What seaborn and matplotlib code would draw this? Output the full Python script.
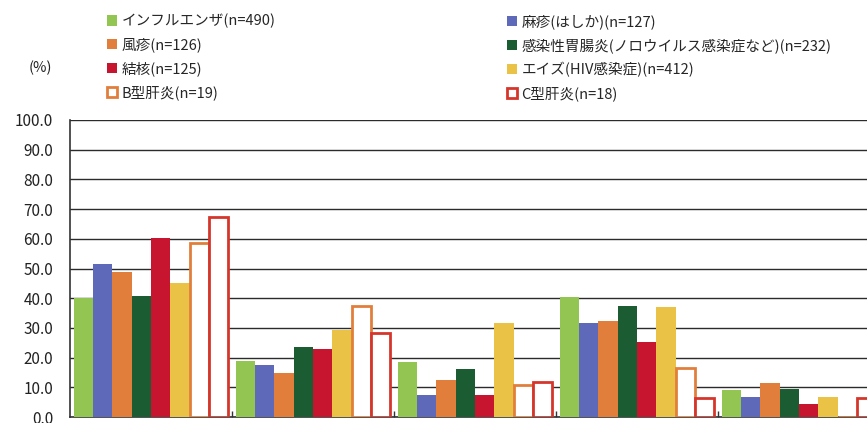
import pandas as pd
import seaborn as sns
import matplotlib.pyplot as plt
from matplotlib.patches import Patch

# groups (axis labels are cut off in the source image)
groups = ['G1', 'G2', 'G3', 'G4', 'G5']
diseases = ['インフルエンザ(n=490)', '麻疹(はしか)(n=127)', '風疹(n=126)',
            '感染性胃腸炎(ノロウイルス感染症など)(n=232)', '結核(n=125)',
            'エイズ(HIV感染症)(n=412)', 'B型肝炎(n=19)', 'C型肝炎(n=18)']

influenza = [40.0, 18.9, 18.5, 40.4, 9.0]
measles = [51.6, 17.6, 7.4, 31.8, 6.7]
rubella = [48.7, 14.7, 12.4, 32.4, 11.6]
gastro = [40.8, 23.5, 16.2, 37.3, 9.4]
tb = [60.2, 22.8, 7.4, 25.3, 4.5]
aids = [45.0, 29.4, 31.5, 36.9, 6.6]
hep_b = [58.5, 37.4, 10.8, 16.4, 0.0]
hep_c = [67.2, 28.3, 11.9, 6.5, 6.4]

colors = ['#93C552', '#5F69B9', '#E27E3C', '#1C5C33', '#C8152F',
          '#EAC246', '#E27E3C', '#D6352C']

series = [influenza, measles, rubella, gastro, tb, aids, hep_b, hep_c]
rows = []
for name, vals in zip(diseases, series):
    for g, v in zip(groups, vals):
        rows.append({'group': g, 'disease': name, 'value': v})
df = pd.DataFrame(rows)

sns.set_theme(style='white')
plt.rcParams['font.family'] = ['Noto Sans CJK JP', 'DejaVu Sans']

fig = plt.figure(figsize=(8.67, 4.23), dpi=100)
ax = fig.add_axes([70 / 867, 6 / 423, 810 / 867, 297 / 423])

sns.barplot(data=df, x='group', y='value', hue='disease', hue_order=diseases,
            palette=colors, width=0.955, saturation=1, legend=False, ax=ax,
            zorder=3, linewidth=0)

# hepatitis bars are hollow
for cont, c in zip(ax.containers[6:], colors[6:]):
    for p in cont.patches:
        p.set_facecolor('white')
        p.set_edgecolor(c)
        p.set_linewidth(2)

ax.set_ylim(0, 100)
ax.set_xlim(-0.5, 4.5)
ax.set_yticks(range(0, 101, 10))
ax.set_yticklabels([f'{v:.1f}' for v in range(0, 101, 10)], fontsize=11, color='#222222')
ax.set_xticks([])
ax.set_xticks([0.5, 1.5, 2.5, 3.5], minor=True)
ax.tick_params(axis='x', which='minor', direction='in', length=4, width=1, color='#333333', bottom=True)
ax.tick_params(axis='y', length=0, pad=12)
ax.set_xlabel('')
ax.set_ylabel('')
ax.yaxis.grid(True, color='#2b2b2b', linewidth=1)
ax.set_axisbelow(True)
for s in ['top', 'right']:
    ax.spines[s].set_visible(False)
for s in ['left', 'bottom']:
    ax.spines[s].set_color('#333333')
    ax.spines[s].set_linewidth(1.2)

fig.text(40 / 867, 1 - 68 / 423, '(%)', fontsize=10.5, ha='center', va='center', color='#222222')

handles = []
for name, c, i in zip(diseases, colors, range(8)):
    if i >= 6:
        handles.append(Patch(facecolor='white', edgecolor=c, linewidth=2, label=name))
    else:
        handles.append(Patch(facecolor=c, edgecolor='none', label=name))

for col, x0 in [(0, 107 / 867), (1, 507 / 867)]:
    hs = handles[col::2]
    fig.legend(handles=hs, loc='upper left', bbox_to_anchor=(x0, 1 - 14 / 423),
               frameon=False, fontsize=10.5, handlelength=0.7, handleheight=0.7,
               handletextpad=0.3, labelspacing=0.62, borderpad=0, borderaxespad=0)

fig.savefig('out.png', dpi=100)
